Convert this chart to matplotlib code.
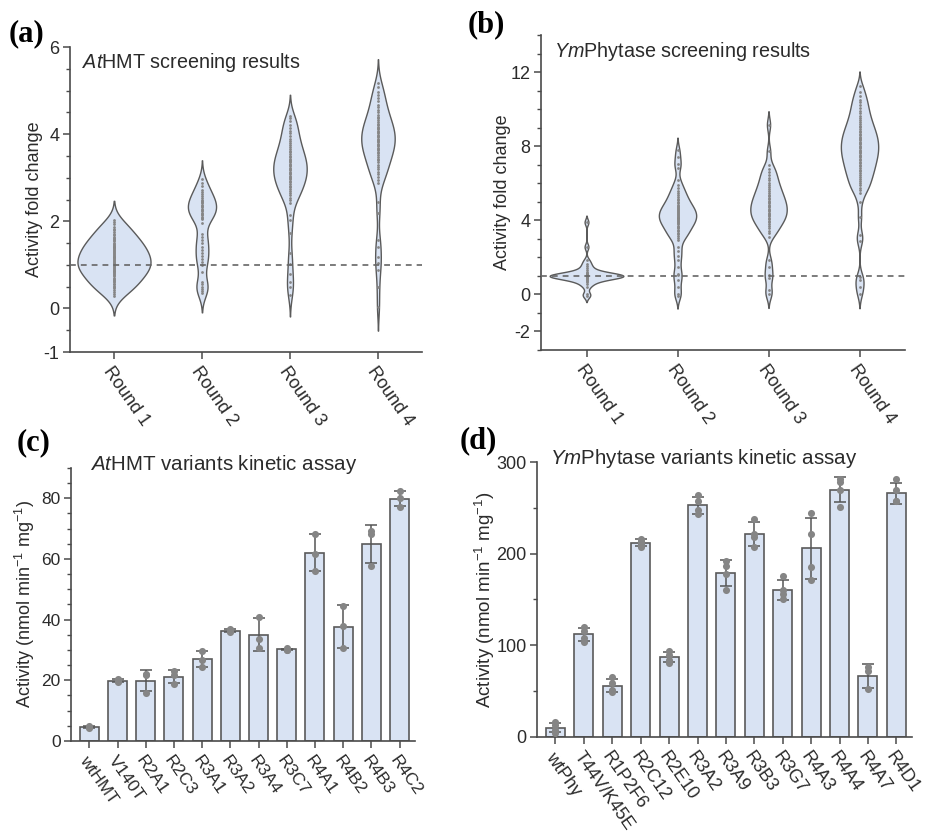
import numpy as np
import matplotlib
matplotlib.use('Agg')
import matplotlib.pyplot as plt
from matplotlib.ticker import MultipleLocator, FixedLocator

# ---- data ----
ROUNDS = ['Round 1', 'Round 2', 'Round 3', 'Round 4']

# (a) AtHMT screening, fold change of every screened variant
AT_R1 = [0.28, 0.34, 0.38, 0.42, 0.46, 0.49, 0.52, 0.55, 0.57, 0.60, 0.63, 0.66, 0.68,
         0.71, 0.74, 0.77, 0.79, 0.81, 0.83, 0.85, 0.87, 0.89, 0.91, 0.93, 0.95, 0.97,
         0.99, 1.00, 1.01, 1.03, 1.05, 1.07, 1.09, 1.11, 1.13, 1.15, 1.17, 1.19, 1.21,
         1.23, 1.25, 1.27, 1.29, 1.31, 1.33, 1.36, 1.38, 1.40, 1.42, 1.44, 1.46, 1.48,
         1.51, 1.54, 1.57, 1.59, 1.62, 1.65, 1.68, 1.72, 1.76, 1.79, 1.83, 1.87, 1.93,
         1.98, 2.03]
AT_R2 = [0.35, 0.40, 0.45, 0.50, 0.55, 0.60, 0.84, 1.00, 1.06, 1.13, 1.20, 1.28, 1.35,
         1.42, 1.50, 1.58, 1.65, 1.72, 1.95, 2.05, 2.08, 2.11, 2.14, 2.17, 2.20, 2.23,
         2.26, 2.29, 2.32, 2.35, 2.38, 2.41, 2.44, 2.47, 2.50, 2.54, 2.58, 2.62, 2.67,
         2.72, 2.80, 2.88, 2.96]
AT_R3 = [0.30, 0.50, 0.60, 0.80, 1.02, 1.27, 1.73, 2.03, 2.14, 2.42, 2.48, 2.54, 2.60,
         2.65, 2.70, 2.74, 2.78, 2.82, 2.86, 2.90, 2.93, 2.96, 2.99, 3.02, 3.05, 3.08,
         3.11, 3.14, 3.17, 3.20, 3.23, 3.26, 3.29, 3.32, 3.35, 3.38, 3.41, 3.44, 3.47,
         3.50, 3.54, 3.58, 3.62, 3.66, 3.70, 3.75, 3.80, 3.85, 3.90, 3.96, 4.02, 4.08,
         4.15, 4.22, 4.30, 4.36, 4.42]
AT_R4 = [0.04, 0.50, 0.88, 1.04, 1.19, 1.42, 1.57, 2.19, 2.45, 2.87, 2.95, 3.02, 3.08,
         3.14, 3.20, 3.25, 3.30, 3.35, 3.40, 3.44, 3.48, 3.52, 3.56, 3.60, 3.63, 3.66,
         3.69, 3.72, 3.75, 3.78, 3.81, 3.84, 3.87, 3.90, 3.93, 3.96, 3.99, 4.02, 4.05,
         4.08, 4.11, 4.14, 4.17, 4.20, 4.24, 4.28, 4.32, 4.36, 4.40, 4.45, 4.50, 4.56,
         4.62, 4.68, 4.75, 4.82, 4.90, 4.97, 5.08, 5.17]

# (b) YmPhytase screening
YM_R1 = [-0.06, 0.00, 0.40, 0.55, 0.65, 0.72, 0.78, 0.84, 0.88, 0.91, 0.93, 0.95,
         0.96, 0.97, 0.98, 0.99, 1.00, 1.00, 1.01, 1.02, 1.03, 1.04, 1.05, 1.07, 1.09,
         1.12, 1.16, 1.22, 1.30, 1.40, 1.52, 1.66, 1.84, 2.57, 3.90]
YM_R2 = [-0.10, 0.05, 0.40, 0.76, 1.03, 1.10, 1.48, 1.84, 2.10, 2.35, 2.57, 2.93, 3.05,
         3.15, 3.25, 3.34, 3.42, 3.50, 3.58, 3.65, 3.72, 3.78, 3.84, 3.90, 3.95, 4.00,
         4.05, 4.10, 4.15, 4.20, 4.25, 4.30, 4.35, 4.40, 4.45, 4.50, 4.55, 4.60, 4.66,
         4.72, 4.78, 4.85, 4.92, 5.00, 5.08, 5.17, 5.26, 5.36, 5.48, 5.60, 5.74, 5.90,
         6.18, 6.85, 7.05, 7.40, 7.80]
YM_R3 = [0.00, 0.22, 0.90, 1.03, 1.48, 1.84, 3.11, 3.30, 3.45, 3.58, 3.70, 3.80, 3.90,
         3.98, 4.06, 4.14, 4.21, 4.28, 4.35, 4.42, 4.49, 4.56, 4.63, 4.70, 4.77, 4.84,
         4.91, 4.98, 5.06, 5.14, 5.22, 5.30, 5.39, 5.48, 5.58, 5.68, 5.78, 5.90, 6.02,
         6.15, 6.30, 6.45, 6.60, 6.78, 7.00, 7.72, 9.16]
YM_R4 = [0.05, 0.40, 0.76, 0.94, 2.90, 3.20, 4.19, 5.00, 5.46, 5.62, 5.76, 5.90, 6.02,
         6.14, 6.25, 6.36, 6.46, 6.56, 6.65, 6.74, 6.83, 6.92, 7.00, 7.08, 7.16, 7.24,
         7.32, 7.40, 7.47, 7.54, 7.61, 7.68, 7.75, 7.82, 7.89, 7.96, 8.03, 8.10, 8.17,
         8.24, 8.31, 8.38, 8.45, 8.52, 8.60, 8.68, 8.76, 8.84, 8.92, 9.01, 9.10, 9.20,
         9.30, 9.41, 9.52, 9.64, 9.77, 9.90, 10.05, 10.20, 10.36, 10.52, 10.70, 10.95,
         11.24]

# (c) AtHMT variants, triplicate activities (nmol min-1 mg-1)
AT_VARIANTS = ['wtHMT', 'V140T', 'R2A1', 'R2C3', 'R3A1', 'R3A2', 'R3A4', 'R3C7',
               'R4A1', 'R4B2', 'R4B3', 'R4C2']
AT_REPS = [[4.9, 4.6, 4.4], [20.3, 19.5, 19.8], [22.2, 15.9, 21.6], [23.2, 21.6, 18.8],
           [29.6, 26.8, 24.5], [36.8, 36.2, 35.9], [41.0, 33.5, 30.6], [30.5, 30.1, 29.9],
           [68.4, 61.8, 56.2], [44.6, 38.0, 30.6], [69.2, 68.1, 57.6], [82.4, 80.0, 77.3]]

# (d) YmPhytase variants, replicate activities
YM_VARIANTS = ['wtPhy', 'T44V/K45E', 'R1P2F6', 'R2C12', 'R2E10', 'R3A2', 'R3A9', 'R3B3',
               'R3G7', 'R4A3', 'R4A4', 'R4A7', 'R4D1']
YM_REPS = [[16, 13, 8, 4], [120, 116, 108, 104], [65, 59, 51, 49], [216, 214, 211, 207],
           [94, 89, 84, 81], [264, 257, 248, 243], [192, 187, 178, 160],
           [238, 222, 218, 207], [176, 160, 156, 151], [244, 222, 186, 171],
           [281, 278, 270, 251], [76, 72, 52], [281, 269, 257, 257]]

# ---- style ----
FILL = '#d9e3f3'
EDGE = '#5a5a5a'
DOT = '#858585'
TXT = '#2b2b2b'
VW_A = [0.83, 0.32, 0.38, 0.38]
VW_B = [0.81, 0.41, 0.40, 0.41]
BW_A = [0.2, 0.2, 0.22, 0.25]
BW_B = [0.16, 0.3, 0.33, 0.36]

plt.rcParams['font.family'] = ['Liberation Sans', 'DejaVu Sans']
plt.rcParams['mathtext.fontset'] = 'custom'
plt.rcParams['mathtext.rm'] = 'Liberation Sans'
plt.rcParams['mathtext.it'] = 'Liberation Sans:italic'
plt.rcParams['axes.unicode_minus'] = False
plt.rcParams['text.color'] = TXT
plt.rcParams['axes.labelcolor'] = TXT
plt.rcParams['xtick.color'] = '#4a4a4a'
plt.rcParams['ytick.color'] = '#4a4a4a'
plt.rcParams['xtick.labelcolor'] = TXT
plt.rcParams['ytick.labelcolor'] = TXT


def style_axes(ax, fs):
    for s in ['top', 'right']:
        ax.spines[s].set_visible(False)
    for s in ['left', 'bottom']:
        ax.spines[s].set_color('#4a4a4a')
        ax.spines[s].set_linewidth(1.2)
    ax.tick_params(which='major', direction='out', length=5, width=1.1, labelsize=fs)
    ax.tick_params(which='minor', direction='out', length=3, width=1.0)
    ax.tick_params(axis='x', which='minor', bottom=False)
    ax.tick_params(axis='y', pad=2.5)


def violin(ax, pos, vals, width, bw, cut=2.2):
    v = np.asarray(vals, float)
    ys = np.linspace(v.min() - cut * bw, v.max() + cut * bw, 600)
    dens = np.exp(-0.5 * ((ys[:, None] - v[None, :]) / bw) ** 2).sum(axis=1)
    half = dens / dens.max() * width / 2
    ax.fill_betweenx(ys, pos - half, pos + half, facecolor=FILL, edgecolor=EDGE,
                     linewidth=1.0, zorder=2)
    ax.scatter(np.full(len(v), pos), v, s=4, color=DOT, linewidths=0, zorder=3)


def violin_panel(ax, groups, widths, bws, title, fs):
    for i, g in enumerate(groups):
        violin(ax, i + 1, g, widths[i], bws[i])
    ax.axhline(1, color='#666666', lw=1.2, ls=(0, (3.5, 3)), zorder=4)
    ax.set_xlim(0.5, 4.5)
    ax.set_xticks(range(1, 5))
    ax.set_xticklabels(ROUNDS, rotation=-55, ha='left', va='top', rotation_mode='anchor')
    ax.set_ylabel('Activity fold change', fontsize=13)
    ax.text(0.035, 0.93, title, transform=ax.transAxes, fontsize=14.2, va='baseline')
    style_axes(ax, fs)


def bar_panel(ax, names, reps, title, fs, lfs, tx):
    means = [np.mean(r) for r in reps]
    sds = [np.std(r, ddof=1) for r in reps]
    x = np.arange(len(names))
    ax.bar(x, means, width=0.67, color=FILL, edgecolor=EDGE, linewidth=1.2, zorder=2)
    ax.errorbar(x, means, yerr=sds, fmt='none', ecolor='#555555', elinewidth=1.1,
                capsize=4, capthick=1.1, zorder=3)
    for i, r in enumerate(reps):
        ax.scatter(np.full(len(r), i), r, s=26, color=DOT, linewidths=0, zorder=4)
    ax.set_xticks(x)
    ax.set_xticklabels(names, rotation=-55, ha='left', va='top', rotation_mode='anchor')
    ax.set_xlim(-0.65, len(names) - 0.45)
    ax.set_ylabel(r'Activity (nmol min$^{-1}$ mg$^{-1}$)', fontsize=lfs)
    ax.text(tx, 0.993, title, transform=ax.transAxes, fontsize=14.8, va='baseline')
    style_axes(ax, fs)


fig = plt.figure(figsize=(9.27, 8.32), dpi=100)

ax_a = fig.add_axes([0.0755, 0.5769, 0.3797, 0.3666])
violin_panel(ax_a, [AT_R1, AT_R2, AT_R3, AT_R4], VW_A, BW_A,
             r'$\mathit{At}$HMT screening results', 13)
ax_a.set_ylim(-1, 6)
ax_a.yaxis.set_major_locator(FixedLocator([-1, 0, 2, 4, 6]))
ax_a.yaxis.set_minor_locator(MultipleLocator(0.5))
ax_a.yaxis.set_label_coords(-0.077, 0.5)

ax_b = fig.add_axes([0.5836, 0.5793, 0.3927, 0.3786])
violin_panel(ax_b, [YM_R1, YM_R2, YM_R3, YM_R4], VW_B, BW_B,
             r'$\mathit{Ym}$Phytase screening results', 13)
ax_b.set_ylim(-3, 14)
ax_b.yaxis.set_major_locator(FixedLocator([-2, 0, 4, 8, 12]))
ax_b.yaxis.set_minor_locator(MultipleLocator(1))
ax_b.yaxis.set_label_coords(-0.082, 0.5)

ax_c = fig.add_axes([0.0766, 0.1094, 0.3711, 0.3281])
bar_panel(ax_c, AT_VARIANTS, AT_REPS, r'$\mathit{At}$HMT variants kinetic assay',
          12.5, 13, 0.055)
ax_c.set_ylim(0, 90)
ax_c.yaxis.set_major_locator(MultipleLocator(20))
ax_c.yaxis.set_minor_locator(MultipleLocator(5))
ax_c.yaxis.set_label_coords(-0.098, 0.5)

ax_d = fig.add_axes([0.5793, 0.1142, 0.4045, 0.3305])
bar_panel(ax_d, YM_VARIANTS, YM_REPS, r'$\mathit{Ym}$Phytase variants kinetic assay',
          13, 13.5, 0.035)
ax_d.set_ylim(0, 300)
ax_d.yaxis.set_major_locator(MultipleLocator(100))
ax_d.yaxis.set_minor_locator(MultipleLocator(50))
ax_d.yaxis.set_label_coords(-0.107, 0.5)

for lab, x, y in [('(a)', 0.009, 0.960), ('(b)', 0.504, 0.970),
                  ('(c)', 0.018, 0.4675), ('(d)', 0.496, 0.470)]:
    fig.text(x, y, lab, fontsize=22, fontweight='bold', family='Liberation Serif',
             ha='left', va='center', color='black')

fig.savefig('out.png', dpi=100)
